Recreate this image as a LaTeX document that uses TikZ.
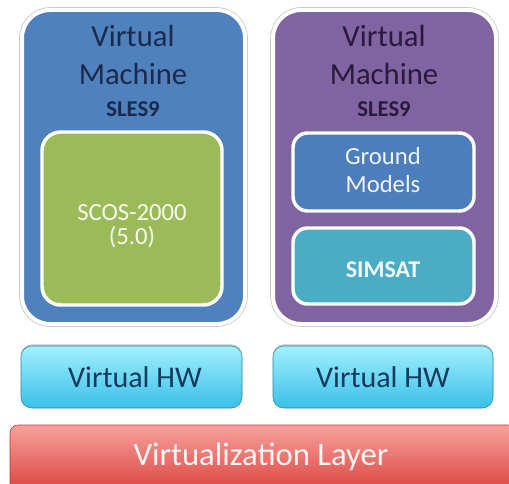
\documentclass[tikz,border=0pt]{standalone}
\usepackage{fontspec}
\setmainfont{Carlito}
\usetikzlibrary{shadows}

\definecolor{vmblue}{RGB}{79,129,189}
\definecolor{vmpurple}{RGB}{128,100,162}
\definecolor{scosgreen}{RGB}{155,187,89}
\definecolor{groundblue}{RGB}{76,126,189}
\definecolor{simsatteal}{RGB}{75,172,198}
\definecolor{hwtop}{RGB}{160,240,255}
\definecolor{hwbottom}{RGB}{58,192,232}
\definecolor{layertop}{RGB}{249,160,156}
\definecolor{layerbottom}{RGB}{218,68,62}
\definecolor{titleblue}{RGB}{27,42,74}
\definecolor{titlepurple}{RGB}{40,26,60}
\definecolor{hwtext}{RGB}{22,58,92}

\begin{document}
\begin{tikzpicture}[x=0.75pt,y=0.75pt,yscale=-1,xscale=1,
  vmbox/.style={draw=white, line width=3pt, rounded corners=21pt,
    preaction={draw=black!22, line width=4.2pt},
    drop shadow={shadow xshift=0pt, shadow yshift=1.5pt, opacity=0.25}},
  appbox/.style={draw=white, line width=2.6pt, rounded corners=#1},
  hwbox/.style={rounded corners=8pt, top color=hwtop, bottom color=hwbottom,
    draw=hwbottom!70!black, line width=0.4pt,
    drop shadow={shadow xshift=0pt, shadow yshift=1.2pt, opacity=0.45}},
  layerbox/.style={rounded corners=6pt, top color=layertop, bottom color=layerbottom,
    draw=layerbottom!85!black, line width=0.4pt},
  vmtitle/.style={anchor=base, inner sep=0.75pt, font=\fontsize{23}{28}\selectfont},
  ostext/.style={anchor=base, inner sep=0.75pt, font=\bfseries\fontsize{17}{20}\selectfont},
  apptext/.style={anchor=base, inner sep=0.75pt, font=\fontsize{18.5}{22}\selectfont}]
\useasboundingbox (0,0) rectangle (509,484);

%Shape: Left virtual machine
\draw [vmbox, fill=vmblue] (22,10) rectangle (245,324);
%Shape: SCOS box
\draw [appbox=14pt, fill=scosgreen] (42,132) rectangle (222,305);
%Shape: Right virtual machine
\draw [vmbox, fill=vmpurple] (273,10) rectangle (496,324);
%Shape: Ground models box
\draw [appbox=11pt, fill=groundblue] (293,133) rectangle (474,211);
%Shape: SIMSAT box
\draw [appbox=11pt, fill=simsatteal] (293,228) rectangle (474,304);
%Shape: Virtual HW boxes
\draw [hwbox] (21,346) rectangle (242,408);
\draw [hwbox] (273,346) rectangle (493,408);
%Shape: Virtualization layer
\draw [layerbox] (10,425) rectangle (516,492);

% Text Node
\node (vmlVirtual) [vmtitle, text=titleblue] at (133,47) {Virtual};
% Text Node
\node (vmlMachine) [vmtitle, text=titleblue] at (133,85) {Machine};
% Text Node
\node (vmlOs) [ostext, text=titleblue] at (133,117) {SLES9};
% Text Node
\node (scosName) [apptext, text=white!92!scosgreen] at (132,220) {SCOS-2000};
% Text Node
\node (scosVersion) [apptext, text=white!92!scosgreen] at (132,244) {(5.0)};
% Text Node
\node (vmrVirtual) [vmtitle, text=titlepurple] at (384,47) {Virtual};
% Text Node
\node (vmrMachine) [vmtitle, text=titlepurple] at (384,85) {Machine};
% Text Node
\node (vmrOs) [ostext, text=titlepurple] at (384,117) {SLES9};
% Text Node
\node (groundTop) [apptext, text=white!92!groundblue] at (383,165) {Ground};
% Text Node
\node (groundBottom) [apptext, text=white!92!groundblue] at (383,193) {Models};
% Text Node
\node (simsat) [apptext, font=\bfseries\fontsize{18}{22}\selectfont, text=white!94!simsatteal] at (383,277) {SIMSAT};
% Text Node
\node (hwLeft) [anchor=base, inner sep=0.75pt, font=\fontsize{22.5}{27}\selectfont, text=hwtext] at (135,387) {Virtual HW};
% Text Node
\node (hwRight) [anchor=base, inner sep=0.75pt, font=\fontsize{22.5}{27}\selectfont, text=hwtext] at (383,387) {Virtual HW};
% Text Node
\node (layer) [anchor=base, inner sep=0.75pt, font=\fontsize{24.5}{29}\selectfont, text=white!90!layertop] at (261,465) {Virtualization Layer};

\end{tikzpicture}
\end{document}
